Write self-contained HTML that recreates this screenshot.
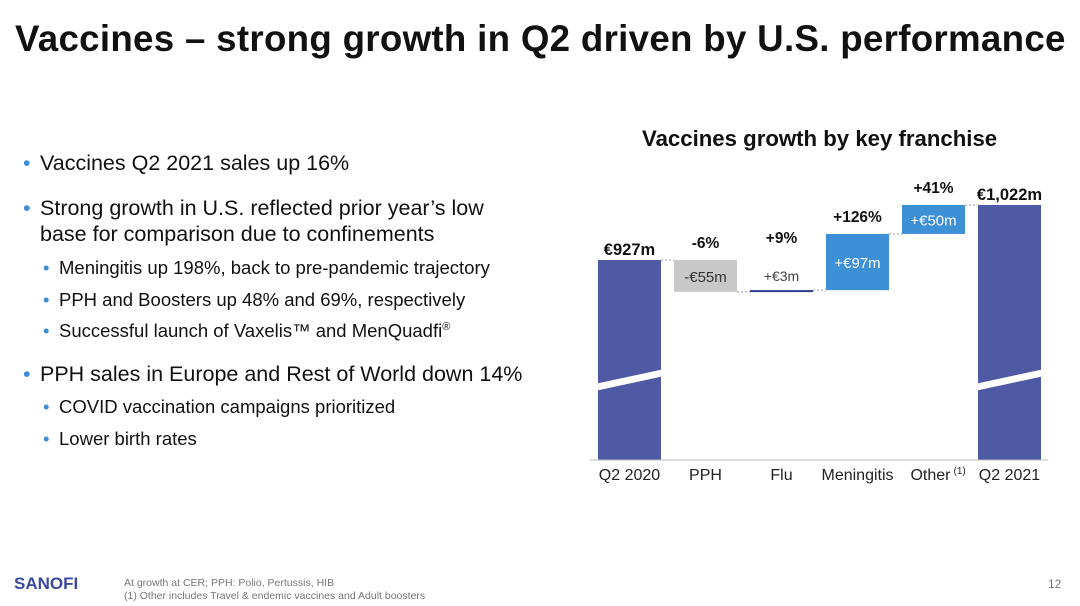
<!DOCTYPE html>
<html><head><meta charset="utf-8"><style>
body{margin:0;width:1080px;height:606px;background:#fff;font-family:"Liberation Sans",sans-serif;position:relative;overflow:hidden}
.t{position:absolute;white-space:nowrap}
.b1{font-size:21.5px;color:#111}
.b2{font-size:18.5px;color:#111}
.dot{color:#3f8fd6;position:absolute}
</style></head><body>
<div class="t" style="left:15px;top:18px;font-size:36.7px;font-weight:bold;letter-spacing:0.3px;color:#111">Vaccines – strong growth in Q2 driven by U.S. performance</div>
<div>
<span class="t b1 dot" style="left:23px;top:151px">•</span><div class="t b1" style="left:40px;top:151px">Vaccines Q2 2021 sales up 16%</div>
<span class="t b1 dot" style="left:23px;top:196px">•</span><div class="t b1" style="left:40px;top:196px">Strong growth in U.S. reflected prior year’s low</div>
<div class="t b1" style="left:40px;top:222px">base for comparison due to confinements</div>
<span class="t b2 dot" style="left:43px;top:257px">•</span><div class="t b2" style="left:59px;top:257px">Meningitis up 198%, back to pre-pandemic trajectory</div>
<span class="t b2 dot" style="left:43px;top:289px">•</span><div class="t b2" style="left:59px;top:289px">PPH and Boosters up 48% and 69%, respectively</div>
<span class="t b2 dot" style="left:43px;top:320px">•</span><div class="t b2" style="left:59px;top:320px">Successful launch of Vaxelis™ and MenQuadfi<sup style="font-size:11px">®</sup></div>
<span class="t b1 dot" style="left:23px;top:362px">•</span><div class="t b1" style="left:40px;top:362px">PPH sales in Europe and Rest of World down 14%</div>
<span class="t b2 dot" style="left:43px;top:396px">•</span><div class="t b2" style="left:59px;top:396px">COVID vaccination campaigns prioritized</div>
<span class="t b2 dot" style="left:43px;top:428px">•</span><div class="t b2" style="left:59px;top:428px">Lower birth rates</div>
</div>
<div class="t" style="left:642px;top:126px;font-size:22.2px;font-weight:bold;color:#111">Vaccines growth by key franchise</div>
<svg id="chart" width="1080" height="606" style="position:absolute;left:0;top:0"></svg>
<div class="t" style="left:14px;top:574px;font-size:17px;font-weight:bold;color:#3a4a9a">SANOFI</div>
<div class="t" style="left:124px;top:577px;font-size:10.5px;color:#777;line-height:13px">At growth at CER; PPH: Polio, Pertussis, HIB<br>(1) Other includes Travel &amp; endemic vaccines and Adult boosters</div>
<div class="t" style="left:1048px;top:577px;font-size:12px;color:#777">12</div>
<script>
const categories=["Q2 2020","PPH","Flu","Meningitis","Other","Q2 2021"];
const deltas=[927,-55,3,97,50,1022];
const kinds=["total","neg","pos","pos","pos","total"];
const valueLabels=["€927m","-€55m","+€3m","+€97m","+€50m","€1,022m"];
const pctLabels=["","-6%","+9%","+126%","+41%",""];
const NS="http://www.w3.org/2000/svg";
const svg=document.getElementById('chart');
const base=460,refV=927,refY=260,ppm=0.579;
function y(v){return refY-(v-refV)*ppm;}
function xL(i){return 598+i*76;}
const bw=63;
function mk(t,a){const e=document.createElementNS(NS,t);for(const k in a)e.setAttribute(k,a[k]);svg.appendChild(e);return e;}
let run=0;
const ends=[];
categories.forEach((c,i)=>{
  let top,bot,fill;
  if(kinds[i]==="total"){run=deltas[i];top=y(run);bot=base;fill="#4e5aa3";}
  else{const s=run,e=run+deltas[i];run=e;top=y(Math.max(s,e));bot=y(Math.min(s,e));fill=kinds[i]==="neg"?"#c8c8c8":(Math.abs(deltas[i])<10?"#2e3a8c":"#3d8fd6");}
  const r=mk('rect',{x:xL(i),y:top,width:bw,height:Math.max(bot-top,2),fill:fill});
  
  
  ends.push(y(run));
  const cx=xL(i)+bw/2;
  let tx;
  if(kinds[i]==="total"){tx=mk('text',{x:cx,y:top-5,'text-anchor':'middle','font-size':16.5,'font-weight':'bold',fill:'#111'});}
  else if(Math.abs(deltas[i])<10){tx=mk('text',{x:cx,y:top-9,'text-anchor':'middle','font-size':14,fill:'#444'});}
  else{tx=mk('text',{x:cx,y:(top+bot)/2+6,'text-anchor':'middle','font-size':15,fill:kinds[i]==="neg"?'#333':'#fff'});}
  tx.textContent=valueLabels[i];
  
  
  if(pctLabels[i]){
    const pt=mk('text',{x:cx,y:(Math.abs(deltas[i])<10?top-47:top-12),'text-anchor':'middle','font-size':15.5,'font-weight':'bold',fill:'#111'});
    pt.textContent=pctLabels[i];
    
    
  }
  const cl=mk('text',{x:cx+(c==="Other"?-3:0),y:480,'text-anchor':'middle','font-size':16,fill:'#222'});
  cl.textContent=c;
  
  
  if(c==="Other"){const s=mk('text',{x:cx+20,y:474,'font-size':10,fill:'#222'});s.textContent="(1)";}
});
for(let i=0;i<categories.length-1;i++){
  const l=mk('line',{x1:xL(i)+bw,x2:xL(i+1),y1:ends[i],y2:ends[i],stroke:'#999','stroke-dasharray':'2,2','stroke-width':1});
  
  
}
[0,5].forEach(i=>{
  const p=mk('polygon',{points:`${xL(i)-8},${385} ${xL(i)+bw+8},${368} ${xL(i)+bw+8},${375} ${xL(i)-8},${392}`,fill:'#fff'});
  
  
});
const ax=mk('line',{x1:590,x2:1048,y1:base,y2:base,stroke:'#bbb','stroke-width':1});


</script>
</body></html>
